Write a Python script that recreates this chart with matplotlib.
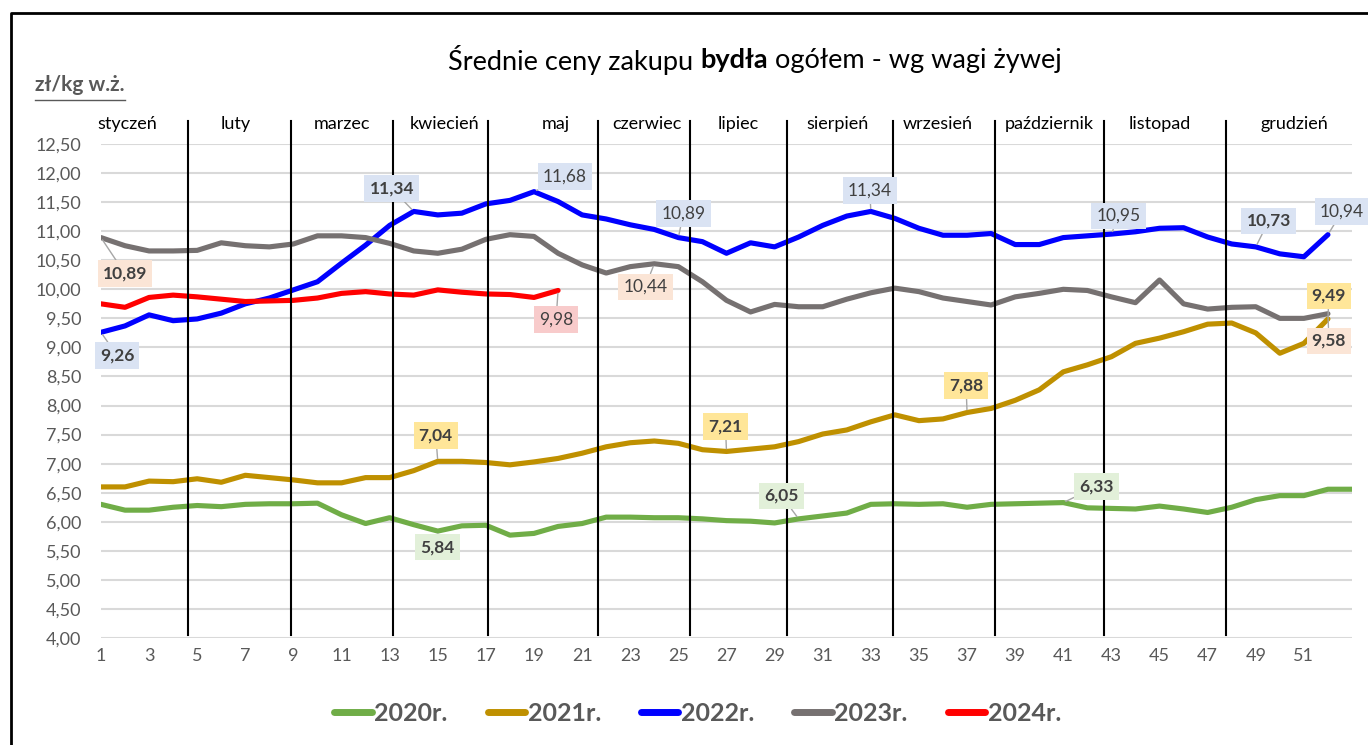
import numpy as np
import matplotlib.pyplot as plt
from matplotlib.lines import Line2D

plt.rcParams['font.family'] = ['Lato', 'DejaVu Sans']

# tygodnie i ceny (zł/kg w.ż.)
weeks = list(range(1, 54))

ceny_2020 = [6.30, 6.20, 6.20, 6.25, 6.28, 6.26, 6.30, 6.31, 6.31, 6.32,
             6.12, 5.97, 6.07, 5.95, 5.84, 5.93, 5.94, 5.77, 5.80, 5.92,
             5.97, 6.08, 6.08, 6.07, 6.07, 6.05, 6.02, 6.01, 5.98, 6.05,
             6.10, 6.15, 6.30, 6.31, 6.30, 6.31, 6.25, 6.30, 6.31, 6.32,
             6.33, 6.24, 6.23, 6.22, 6.27, 6.22, 6.16, 6.25, 6.38, 6.45,
             6.45, 6.56, 6.56]
ceny_2021 = [6.60, 6.60, 6.70, 6.69, 6.74, 6.68, 6.80, 6.76, 6.72, 6.67,
             6.67, 6.76, 6.76, 6.88, 7.04, 7.04, 7.02, 6.98, 7.03, 7.09,
             7.18, 7.29, 7.36, 7.39, 7.35, 7.24, 7.21, 7.25, 7.29, 7.38,
             7.51, 7.58, 7.72, 7.84, 7.74, 7.77, 7.88, 7.95, 8.09, 8.27,
             8.58, 8.70, 8.84, 9.07, 9.16, 9.27, 9.40, 9.42, 9.25, 8.90,
             9.07, 9.49]
ceny_2022 = [9.26, 9.37, 9.56, 9.46, 9.49, 9.59, 9.75, 9.85, 9.99, 10.13,
             10.45, 10.76, 11.10, 11.34, 11.28, 11.31, 11.47, 11.53, 11.68, 11.51,
             11.28, 11.21, 11.11, 11.03, 10.89, 10.82, 10.62, 10.80, 10.73, 10.90,
             11.10, 11.26, 11.34, 11.22, 11.05, 10.93, 10.93, 10.96, 10.77, 10.77,
             10.89, 10.92, 10.95, 10.99, 11.05, 11.06, 10.90, 10.78, 10.73, 10.61,
             10.56, 10.94]
ceny_2023 = [10.89, 10.75, 10.66, 10.66, 10.67, 10.80, 10.75, 10.73, 10.78, 10.92,
             10.92, 10.89, 10.79, 10.66, 10.62, 10.69, 10.86, 10.94, 10.91, 10.62,
             10.42, 10.28, 10.39, 10.44, 10.39, 10.13, 9.81, 9.61, 9.74, 9.70,
             9.70, 9.83, 9.94, 10.02, 9.96, 9.85, 9.79, 9.73, 9.87, 9.93,
             10.00, 9.98, 9.87, 9.77, 10.16, 9.75, 9.66, 9.69, 9.70, 9.50,
             9.50, 9.58]
ceny_2024 = [9.75, 9.69, 9.86, 9.90, 9.87, 9.83, 9.79, 9.80, 9.81, 9.85,
             9.93, 9.96, 9.92, 9.90, 9.99, 9.95, 9.92, 9.91, 9.86, 9.98]

series = [("2020r.", ceny_2020, "#70ad47"),
          ("2021r.", ceny_2021, "#bf9000"),
          ("2022r.", ceny_2022, "#0000ff"),
          ("2023r.", ceny_2023, "#767171"),
          ("2024r.", ceny_2024, "#ff0000")]

miesiace = ["styczeń", "luty", "marzec", "kwiecień", "maj", "czerwiec", "lipiec",
            "sierpień", "wrzesień", "październik", "listopad", "grudzień"]
# granice miesięcy (w tygodniach) i środki napisów
granice = [4.62, 8.90, 13.14, 17.08, 21.66, 25.48, 29.51, 33.92, 38.16, 42.69, 47.76]
srodki = [2.1, 6.6, 11.0, 15.3, 19.9, 23.7, 27.5, 31.6, 35.8, 40.4, 45.0, 50.6]

# etykiety danych: (seria, tydzień, przesunięcie w px, tło, pogrubienie)
etykiety = [
    (3, 1, (24, -36), "#fbe5d6", True),
    (2, 1, (16, -23), "#dae3f3", True),
    (2, 14, (-22, 23), "#dae3f3", True),
    (2, 19, (31, 15), "#dae3f3", False),
    (2, 25, (5, 24), "#dae3f3", False),
    (2, 33, (-1, 21), "#dae3f3", False),
    (2, 43, (7, 18), "#dae3f3", False),
    (2, 49, (13, 26), "#dae3f3", True),
    (2, 52, (14, 23), "#dae3f3", False),
    (3, 24, (-9, -23), "#fbe5d6", False),
    (4, 20, (-2, -29), "#f8cbcb", False),
    (1, 15, (-2, 26), "#ffe699", True),
    (1, 27, (-1, 25), "#ffe699", True),
    (1, 37, (-1, 27), "#ffe699", True),
    (1, 52, (1, 23), "#ffe699", True),
    (3, 52, (1, -27), "#fbe5d6", True),
    (0, 15, (0, -16), "#e2f0d9", True),
    (0, 30, (-17, 23), "#e2f0d9", True),
    (0, 41, (33, 16), "#e2f0d9", True),
]

fig = plt.figure(figsize=(13.68, 7.45), dpi=100)
ax = fig.add_axes([0.0738, 0.1436, 0.9145, 0.6631])

for name, vals, col in series:
    ax.plot(weeks[:len(vals)], vals, color=col, lw=3.7, label=name,
            solid_joinstyle='round', solid_capstyle='round', zorder=3)

ax.set_xlim(1, 53)
ax.set_ylim(4, 12.5)
yt = np.arange(4, 12.51, 0.5)
ax.set_yticks(yt)
ax.set_yticklabels([f"{v:.2f}".replace(".", ",") for v in yt])
ax.set_xticks(range(1, 52, 2))
ax.tick_params(length=0, labelsize=13, colors="#595959", pad=7)
ax.tick_params(axis='y', pad=14)
ax.grid(axis='y', color="#d9d9d9", lw=1.5)
ax.set_axisbelow(True)
for s in ax.spines.values():
    s.set_visible(False)

# linie miesięcy
for g in granice:
    ax.plot([g, g], [4.05, 12.9], color="black", lw=1.5, clip_on=False, zorder=4)
for m, s in zip(miesiace, srodki):
    ax.text(s, 12.84, m, ha="center", va="center", fontsize=13, color="black")

for si, w, off, bg, bold in etykiety:
    v = series[si][1][w - 1]
    ax.annotate(f"{v:.2f}".replace(".", ","), xy=(w, v), xytext=off,
                textcoords="offset pixels", ha="center", va="center",
                fontsize=12.5, color="#404040", fontweight="bold" if bold else "normal",
                bbox=dict(boxstyle="square,pad=0.3", fc=bg, ec="none"),
                arrowprops=dict(arrowstyle="-", color="#a6a6a6", lw=1, shrinkA=0, shrinkB=2),
                zorder=5, annotation_clip=False)

# tytuł z pogrubionym słowem
r = fig.canvas.get_renderer()
parts = [("Średnie ceny zakupu", "normal"), ("bydła", "bold"), ("ogółem - wg wagi żywej", "normal")]
tt = [fig.text(0, 0.919, p, fontsize=19.5, fontweight=fw, va="center", ha="left") for p, fw in parts]
t1 = fig.text(0, 0, "a a", fontsize=19.5)
t2 = fig.text(0, 0, "aa", fontsize=19.5)
gap = t1.get_window_extent(r).width - t2.get_window_extent(r).width
t1.remove()
t2.remove()
widths = [t.get_window_extent(r).width for t in tt]
x = 755 - (sum(widths) + 2 * gap) / 2
for t, wd in zip(tt, widths):
    t.set_x(x / fig.bbox.width)
    x += wd + gap

unit = fig.text(0.0256, 0.886, "zł/kg w.ż.", ha="left", va="center", fontsize=15,
                fontweight="bold", color="#595959")
ub = unit.get_window_extent(r)
fig.add_artist(Line2D([ub.x0 / fig.bbox.width, ub.x1 / fig.bbox.width], [0.866, 0.866],
                      color="#595959", lw=1))

# ramka
fig.add_artist(Line2D([0.008, 0.008, 1.0], [0.0, 0.982, 0.982], color="black", lw=2))

handles = [Line2D([0], [0], color=c, lw=5, solid_capstyle='round') for _, _, c in series]
leg = fig.legend(handles, [n for n, _, _ in series], loc="center", bbox_to_anchor=(0.51, 0.042),
                 ncol=5, frameon=False, handlelength=1.5, handletextpad=0.1, columnspacing=1.6,
                 prop={"size": 18, "weight": "bold"})
for t in leg.get_texts():
    t.set_color("#595959")

fig.savefig("out.png", dpi=100)
